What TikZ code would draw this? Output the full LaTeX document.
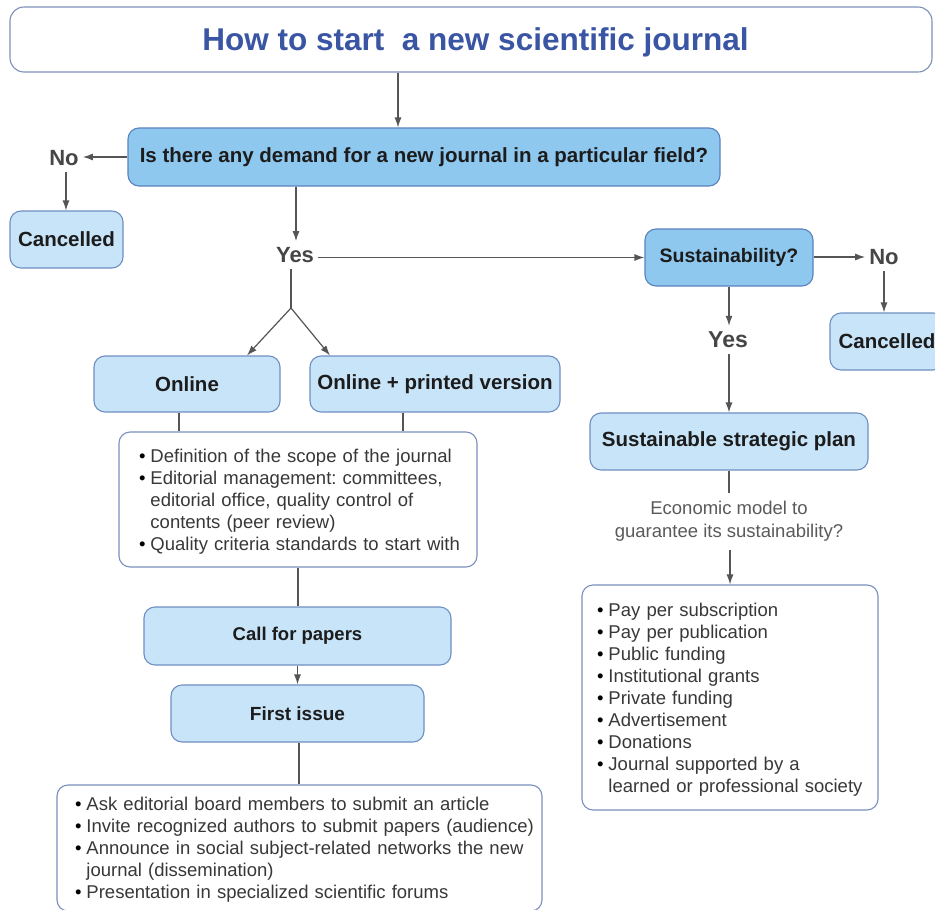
\documentclass[tikz,border=0pt]{standalone}
\usepackage{fontspec}
\setmainfont{Liberation Sans}
\usetikzlibrary{arrows.meta}
\frenchspacing

\definecolor{titleblue}{HTML}{3A55A3}
\definecolor{titleline}{HTML}{7E90B8}
\definecolor{darkfill}{HTML}{8EC8EF}
\definecolor{darkline}{HTML}{5A82BE}
\definecolor{lightfill}{HTML}{C8E4F8}
\definecolor{lightline}{HTML}{6F8FC2}
\definecolor{plainline}{HTML}{7A90BE}
\definecolor{labeltext}{HTML}{1C1C1C}
\definecolor{yntext}{HTML}{464646}
\definecolor{bodytext}{HTML}{383838}
\definecolor{econtext}{HTML}{5A5A5A}
\definecolor{linegray}{HTML}{555555}

\newcommand\blt{\textcolor{black}{\textbullet}}
% bullet list, lowered a little without changing the reported size
\newcommand\bulletlist[1]{\raisebox{-2.5pt}[\height][\depth]{\begin{tabular}{@{}l@{\hspace{5pt}}l@{}}#1\end{tabular}}}

\tikzset{
  box/.style={rounded corners=11pt, line width=1.1pt, inner sep=0pt, align=center},
  darkbox/.style={box, fill=darkfill, draw=darkline},
  lightbox/.style={box, fill=lightfill, draw=lightline},
  plainbox/.style={box, fill=white, draw=plainline},
  lbl/.style={font=\fontsize{20.5}{24}\selectfont\bfseries, text=labeltext},
  yn/.style={font=\fontsize{22}{26}\selectfont\bfseries, text=yntext, inner xsep=4pt, inner ysep=6pt},
  body/.style={font=\fontsize{18.5}{22}\selectfont, text=bodytext, align=left},
  conn/.style={draw=linegray, line width=1.2pt},
  arr/.style={conn, -{Latex[length=10pt,width=7pt]}},
}

\begin{document}
\begin{tikzpicture}[x=1pt,y=-1pt]
\path[use as bounding box] (0,0) rectangle (935,910);
\clip (0,0) rectangle (935,910);
\fill[white] (0,0) rectangle (935,910);

% title
\node[box, draw=titleline, fill=white, rounded corners=14pt, minimum width=922pt, minimum height=65pt,
      font=\fontsize{31.5}{36}\selectfont\bfseries, text=titleblue] (title) at (471,39.5)
      {\hspace*{9pt}\raisebox{-2.5pt}[\height][\depth]{How to start~ a new scientific journal}};

% first question and its "No" branch
\node[darkbox, lbl, minimum width=592pt, minimum height=58pt] (q) at (424,157)
      {Is there any demand for a new journal in a particular field?};
\node[yn] (noL) at (64,158) {No};
\node[lightbox, lbl, minimum width=113pt, minimum height=57pt] (cancL) at (66.5,239.5) {Cancelled};
\node[yn] (yesL) at (295,255) {Yes};

% sustainability branch
\node[darkbox, lbl, font=\fontsize{19.5}{23}\selectfont\bfseries, minimum width=168pt, minimum height=57pt] (sust) at (729,257.5) {Sustainability?};
\node[yn] (noR) at (884,257) {No};
\node[lightbox, lbl, minimum width=114pt, minimum height=57pt] (cancR) at (887,341.5) {Cancelled};
\node[yn, font=\fontsize{23}{27}\selectfont\bfseries] (yesR) at (728,340) {Yes};
\node[lightbox, lbl, minimum width=278pt, minimum height=57pt] (plan) at (729,441.5) {Sustainable strategic plan};
\node[font=\fontsize{18.5}{23}\selectfont, text=econtext, align=center, inner sep=8pt] (econ) at (729,521.5)
      {Economic model to\\guarantee its sustainability?};
\node[plainbox, body, minimum width=296pt, minimum height=225pt, text width=266pt] (box2) at (730,697.5)
      {\bulletlist{
        \blt & Pay per subscription\\
        \blt & Pay per publication\\
        \blt & Public funding\\
        \blt & Institutional grants\\
        \blt & Private funding\\
        \blt & Advertisement\\
        \blt & Donations\\
        \blt & Journal supported by a\\
             & learned or professional society}};

% publication formats
\coordinate (split) at (291,308);
\node[lightbox, lbl, minimum width=186pt, minimum height=56pt] (online) at (187,384) {Online};
\node[lightbox, lbl, minimum width=250pt, minimum height=56pt] (onlinep) at (435,384) {Online + printed version};
\node[plainbox, body, minimum width=358pt, minimum height=135pt, text width=318pt] (box1) at (298,499.5)
      {\bulletlist{
        \blt & Definition of the scope of the journal\\
        \blt & Editorial management: committees,\\
             & editorial office, quality control of\\
             & contents (peer review)\\
        \blt & Quality criteria standards to start with}};

% launch
\node[lightbox, lbl, font=\fontsize{18.5}{22}\selectfont\bfseries, minimum width=307pt, minimum height=58pt] (cfp) at (297.5,636) {Call for papers};
\node[lightbox, lbl, font=\fontsize{19}{22}\selectfont\bfseries, minimum width=253pt, minimum height=57pt] (first) at (297.5,713.5) {First issue};
\node[plainbox, body, minimum width=485pt, minimum height=126pt, text width=449pt] (box3) at (299.5,848)
      {\bulletlist{
        \blt & Ask editorial board members to submit an article\\
        \blt & Invite recognized authors to submit papers (audience)\\
        \blt & Announce in social subject-related networks the new\\
             & journal (dissemination)\\
        \blt & Presentation in specialized scientific forums}};

% connectors
\draw[arr] ([xshift=-73pt]title.south) -- ([xshift=-73pt]title.south |- q.north);
\draw[arr] (q.west) -- (q.west -| noL.east);
\draw[arr] ([xshift=2pt]noL.south) -- ([xshift=2pt]noL.south |- cancL.north);
\draw[arr] ([xshift=-128pt]q.south) -- ([xshift=-128pt]q.south |- yesL.north);
\draw[arr] (yesL.east |- sust.west) -- (sust.west);
\draw[arr] (sust.east |- noR.west) -- (noR.west);
\draw[arr] (noR.south) -- (noR.south |- cancR.north);
\draw[arr] (sust.south) -- (sust.south |- yesR.north);
\draw[arr] (yesR.south -| plan.north) -- (plan.north);
\draw[conn] (plan.south) -- (plan.south |- econ.north);
\draw[arr] (econ.south -| box2.north) -- (box2.north);

\draw[conn] ([xshift=-4pt]yesL.south) -- (split);
\draw[arr] (split) -- ([xshift=60pt]online.north);
\draw[arr] (split) -- ([xshift=-105pt]onlinep.north);
\draw[conn] ([xshift=-8pt]online.south) -- ([xshift=-8pt]online.south |- box1.north);
\draw[conn] ([xshift=-32pt]onlinep.south) -- ([xshift=-32pt]onlinep.south |- box1.north);
\draw[conn] (box1.south) -- (box1.south |- cfp.north);
\draw[arr] (cfp.south) -- (first.north);
\draw[conn] ([xshift=1.5pt]first.south) -- ([xshift=1.5pt]first.south |- box3.north);
\end{tikzpicture}
\end{document}
